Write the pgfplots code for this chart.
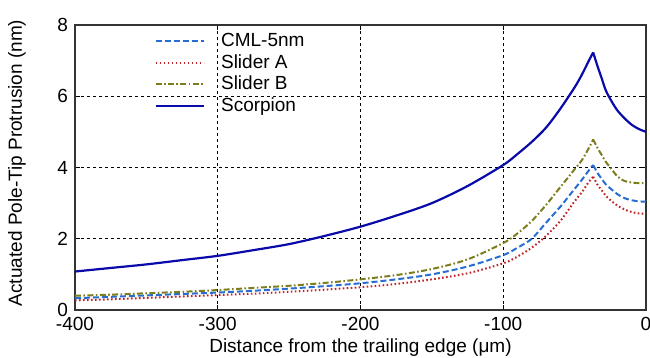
\documentclass[border=0pt]{standalone}
\usepackage{pgfplots}
\pgfplotsset{compat=1.18}
\usepackage{fontspec}
\setmainfont{Liberation Sans}
\definecolor{cmlblue}{RGB}{40,110,210}
\definecolor{sliderred}{RGB}{190,35,40}
\definecolor{sliderolive}{RGB}{125,125,30}
\definecolor{scorp}{RGB}{10,10,170}
\pgfplotstableread{
x s
-400 1.08
-375 1.18
-350 1.28
-325 1.40
-300 1.52
-275 1.68
-250 1.85
-225 2.08
-200 2.34
-175 2.65
-150 3.00
-125 3.48
-100 4.07
-90 4.38
-80 4.72
-70 5.12
-60 5.65
-50 6.25
-45 6.60
-40 7.00
-37 7.23
-34 6.85
-31 6.50
-28 6.15
-24 5.85
-20 5.60
-15 5.38
-10 5.20
-5 5.08
0 5.00
}\scorpion
\pgfplotstableread{
x c a b
-400 0.33 0.27 0.40
-375 0.37 0.30 0.43
-350 0.41 0.34 0.47
-325 0.45 0.38 0.51
-300 0.49 0.42 0.56
-275 0.54 0.46 0.62
-250 0.60 0.51 0.68
-225 0.67 0.57 0.76
-200 0.75 0.64 0.86
-175 0.86 0.73 0.98
-150 1.00 0.86 1.15
-125 1.22 1.03 1.42
-100 1.54 1.31 1.88
-90 1.75 1.50 2.15
-80 2.00 1.75 2.50
-70 2.45 2.08 2.95
-60 2.90 2.50 3.45
-50 3.40 3.05 3.95
-45 3.65 3.30 4.20
-40 3.92 3.60 4.55
-37 4.07 3.74 4.79
-34 3.85 3.52 4.55
-31 3.68 3.36 4.35
-28 3.52 3.20 4.15
-24 3.38 3.05 3.95
-20 3.25 2.93 3.75
-15 3.14 2.82 3.62
-10 3.08 2.75 3.58
-5 3.05 2.71 3.56
0 3.04 2.70 3.56
}\others
\begin{document}
\begin{tikzpicture}
\begin{axis}[
  scale only axis,
  width=285.5pt, height=142.5pt,
  xmin=-400, xmax=0, ymin=0, ymax=8,
  xtick={-400,-300,-200,-100,0},
  ytick={0,2,4,6,8},
  font=\fontsize{9.5}{11}\selectfont,
  /pgf/number format/assume math mode=true,
  tick align=inside,
  major tick length=2.5pt,
  tick style={black, line width=0.5pt},
  axis line style={black!80, line width=0.6pt},
  grid=major,
  major grid style={black, line width=0.45pt, dash pattern=on 1.5pt off 1.5pt},
  xticklabel style={yshift=-2.8pt, inner sep=0.5pt},
  yticklabel style={inner ysep=0pt},
  xlabel={Distance from the trailing edge (μm)},
  ylabel={Actuated Pole-Tip Protrusion (nm)},
  xlabel style={at={(axis description cs:0.5,-0.1480)}, anchor=base, inner sep=0pt},
  ylabel style={at={(axis description cs:-0.1016,0.516)}, anchor=center},
  legend style={draw=none, fill=none, at={(axis description cs:0.128,0.995)}, anchor=north west,
    font=\fontsize{9.5}{11}\selectfont, row sep=0pt,
    nodes={inner sep=1.2pt}},
  legend cell align=left,
  legend image code/.code={\draw[#1] (0pt,0pt) -- (24pt,0pt);},
  /tikz/every odd column/.append style={column sep=7pt},
  every axis plot/.append style={smooth, tension=0.5},
]
\addplot[cmlblue, line width=1pt, dash pattern=on 3pt off 1.5pt, restrict x to domain=-400:-37] table[x=x,y=c]{\others};
\addlegendentry{CML-5nm}
\addplot[sliderred, line width=1pt, dash pattern=on 0.8pt off 1.2pt, restrict x to domain=-400:-37] table[x=x,y=a]{\others};
\addlegendentry{Slider A}
\addplot[sliderolive, line width=1pt, dash pattern=on 3pt off 1.2pt on 0.8pt off 1.2pt, restrict x to domain=-400:-37] table[x=x,y=b]{\others};
\addlegendentry{Slider B}
\addplot[scorp, line width=1.1pt, restrict x to domain=-400:-37] table[x=x,y=s]{\scorpion};
\addlegendentry{Scorpion}
\addplot[forget plot, cmlblue, line width=1pt, dash pattern=on 3pt off 1.5pt, restrict x to domain=-37:0] table[x=x,y=c]{\others};
\addplot[forget plot, sliderred, line width=1pt, dash pattern=on 0.8pt off 1.2pt, restrict x to domain=-37:0] table[x=x,y=a]{\others};
\addplot[forget plot, sliderolive, line width=1pt, dash pattern=on 3pt off 1.2pt on 0.8pt off 1.2pt, restrict x to domain=-37:0] table[x=x,y=b]{\others};
\addplot[forget plot, scorp, line width=1.1pt, restrict x to domain=-37:0] table[x=x,y=s]{\scorpion};
\end{axis}
\pgfresetboundingbox
\path (-37.5pt,-24pt) rectangle (287.5pt,155pt);
\end{tikzpicture}
\end{document}
